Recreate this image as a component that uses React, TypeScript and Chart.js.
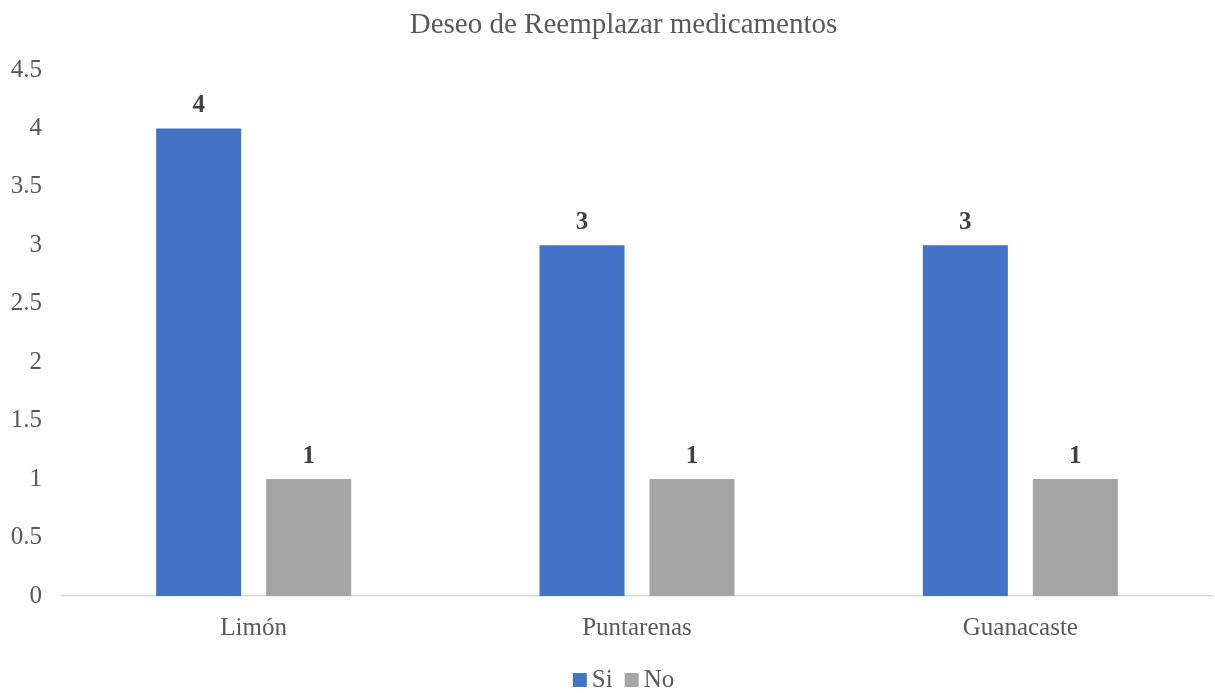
import React, { useEffect, useRef } from "react";
import { Chart, registerables } from "chart.js";

Chart.register(...registerables);

const title = "Deseo de Reemplazar medicamentos";
const categories = ["Limón", "Puntarenas", "Guanacaste"];
const seriesNames = ["Si", "No"];
const siValues = [4, 3, 3];
const noValues = [1, 1, 1];
const seriesColors = ["#4472C4", "#A5A5A5"];
const yMax = 4.5;
const yStep = 0.5;

const FONT = "'Liberation Serif', 'Times New Roman', serif";
const TEXT_COLOR = "#595959";
const CENTER_X = 623.5;

const dataLabelPlugin = {
  id: "dataLabels",
  afterDatasetsDraw(chart: any) {
    const ctx = chart.ctx;
    ctx.save();
    ctx.font = `bold 25px ${FONT}`;
    ctx.fillStyle = "#404040";
    ctx.textAlign = "center";
    ctx.textBaseline = "middle";
    chart.data.datasets.forEach((ds: any, di: number) => {
      const meta = chart.getDatasetMeta(di);
      meta.data.forEach((bar: any, i: number) => {
        ctx.fillText(String(ds.data[i]), bar.x, bar.y - 23);
      });
    });
    ctx.restore();
  },
};

const titleLegendPlugin = {
  id: "titleLegend",
  afterDraw(chart: any) {
    const ctx = chart.ctx;
    ctx.save();
    // title
    ctx.font = `29px ${FONT}`;
    ctx.fillStyle = TEXT_COLOR;
    ctx.textAlign = "center";
    ctx.textBaseline = "middle";
    ctx.fillText(title, CENTER_X, 25);
    // legend
    ctx.font = `25px ${FONT}`;
    ctx.textAlign = "left";
    const box = 14;
    const gapText = 5;
    const gapItem = 12;
    const items = chart.data.datasets.map((ds: any) => ({
      label: ds.label,
      color: ds.backgroundColor,
      w: ctx.measureText(ds.label).width,
    }));
    let total = 0;
    items.forEach((it: any, i: number) => {
      total += box + gapText + it.w + (i < items.length - 1 ? gapItem : 0);
    });
    let x = CENTER_X - total / 2;
    const cy = 680;
    items.forEach((it: any) => {
      ctx.fillStyle = it.color;
      ctx.fillRect(x, cy - box / 2, box, box);
      x += box + gapText;
      ctx.fillStyle = TEXT_COLOR;
      ctx.fillText(it.label, x, cy);
      x += it.w + gapItem;
    });
    ctx.restore();
  },
};

export default function App() {
  const ref = useRef<HTMLCanvasElement>(null);
  useEffect(() => {
    if (!ref.current) return;
    const chart = new Chart(ref.current, {
      type: "bar",
      data: {
        labels: categories,
        datasets: [
          { label: seriesNames[0], data: siValues, backgroundColor: seriesColors[0] },
          { label: seriesNames[1], data: noValues, backgroundColor: seriesColors[1] },
        ],
      },
      options: {
        responsive: false,
        animation: false,
        layout: { padding: { left: 0, right: 3, top: 70, bottom: 48 } },
        datasets: {
          bar: { categoryPercentage: 0.574, barPercentage: 0.773 },
        },
        scales: {
          x: {
            grid: { display: false, drawTicks: false },
            border: { display: true, color: "#D9D9D9", width: 1.5 },
            ticks: { color: TEXT_COLOR, font: { family: FONT, size: 25 }, padding: 17 },
            afterFit: (s: any) => { s.height = 49; },
          },
          y: {
            min: 0,
            max: yMax,
            grid: { display: false, drawTicks: false },
            border: { display: false },
            ticks: {
              stepSize: yStep,
              color: TEXT_COLOR,
              font: { family: FONT, size: 25 },
              padding: 20,
              callback: (v: any) => String(v),
            },
            afterFit: (s: any) => { s.width = 62; },
          },
        },
        plugins: {
          title: { display: false },
          legend: { display: false },
          tooltip: { enabled: false },
        },
      },
      plugins: [dataLabelPlugin, titleLegendPlugin],
    });
    return () => chart.destroy();
  }, []);
  return (
    <div style={{ position: "fixed", left: 0, top: 0, width: 1215, height: 693, background: "#fff" }}>
      <canvas ref={ref} width={1215} height={693} />
    </div>
  );
}
